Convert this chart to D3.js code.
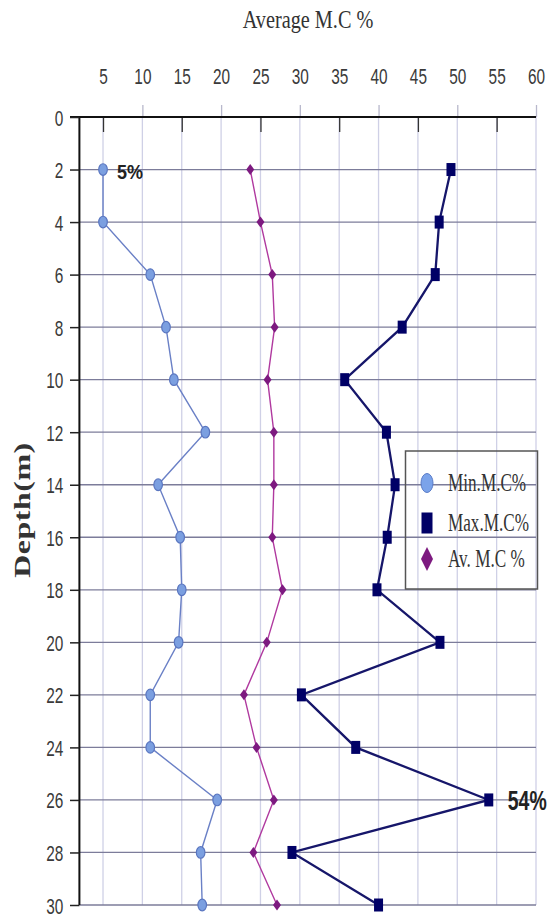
<!DOCTYPE html>
<html>
<head>
<meta charset="utf-8">
<script src="https://cdn.jsdelivr.net/npm/d3@7"></script>
<style>
  html, body { margin: 0; padding: 0; background: #fff; }
  svg { display: block; }
</style>
</head>
<body>
<svg id="chart" width="547" height="917"></svg>
<script>
// Moisture content profile with depth
const depths = [2, 4, 6, 8, 10, 12, 14, 16, 18, 20, 22, 24, 26, 28, 30];
const minMC = [5, 5, 11, 13, 14, 18, 12, 14.8, 15, 14.6, 11, 11, 19.5, 17.4, 17.6];
const maxMC = [49.2, 47.7, 47.2, 43, 35.7, 41, 42.1, 41.1, 39.8, 47.8, 30.2, 37.1, 54, 29, 40];
const avMC = [23.7, 25, 26.5, 26.8, 25.9, 26.7, 26.7, 26.5, 27.8, 25.8, 22.9, 24.5, 26.7, 24.1, 27.1];
const xTicks = [5, 10, 15, 20, 25, 30, 35, 40, 45, 50, 55, 60];
const yTicks = [0, 2, 4, 6, 8, 10, 12, 14, 16, 18, 20, 22, 24, 26, 28, 30];
const seriesNames = ["Min.M.C%", "Max.M.C%", "Av. M.C %"];
const titleText = "Average M.C %";
const yTitle = "Depth(m)";

const svg = d3.select("#chart");
const x = d3.scaleLinear().domain([2, 60]).range([79.4, 536]);
const y = d3.scaleLinear().domain([0, 30]).range([117, 905]);

const sans = "'Liberation Sans', Arial, sans-serif";
const serif = "'Liberation Serif', 'Times New Roman', serif";

// gridlines
const grid = svg.append("g");
grid.selectAll("line.v").data(xTicks).join("line")
  .attr("x1", d => x(d)).attr("x2", d => x(d))
  .attr("y1", y(0)).attr("y2", y(30))
  .attr("stroke", "#cfd0e6").attr("stroke-width", 1.3);
grid.selectAll("line.h").data(yTicks.filter(d => d > 0)).join("line")
  .attr("x1", x(2)).attr("x2", x(60))
  .attr("y1", d => y(d)).attr("y2", d => y(d))
  .attr("stroke", "#7c7c9a").attr("stroke-width", 1.3);

// top axis
const topAxis = svg.append("g").attr("transform", `translate(0,${y(0)})`)
  .call(d3.axisTop(x).tickValues(xTicks).tickSize(0).tickPadding(0));
topAxis.select(".domain").remove();
topAxis.selectAll(".tick text")
  .attr("font-family", sans).attr("font-size", 22).attr("fill", "#3a3a3a")
  .attr("text-anchor", "middle")
  .attr("y", 0)
  .attr("transform", "translate(0,-33) scale(0.7,1)");
// ticks above axis at the tens, below at the fives
topAxis.selectAll(".tick").append("line")
  .attr("y1", d => d % 10 === 0 ? -12 : 0)
  .attr("y2", d => d % 10 === 0 ? 0 : 15)
  .attr("stroke", d => d % 10 === 0 ? "#b8b8cc" : "#333")
  .attr("stroke-width", 1.3);
svg.append("line")
  .attr("x1", 70).attr("x2", x(60)).attr("y1", y(0)).attr("y2", y(0))
  .attr("stroke", "#111").attr("stroke-width", 2);

// left axis
const leftAxis = svg.append("g").attr("transform", `translate(${x(2)},0)`)
  .call(d3.axisLeft(y).tickValues(yTicks).tickSize(9.4).tickPadding(0));
leftAxis.select(".domain").attr("stroke", "#111").attr("stroke-width", 2)
  .attr("d", `M0,${y(0)}V${y(30)}`);
leftAxis.selectAll(".tick line").attr("stroke", "#222").attr("stroke-width", 1.5);
leftAxis.selectAll(".tick text")
  .attr("font-family", sans).attr("font-size", 22).attr("fill", "#3a3a3a")
  .attr("text-anchor", "end").attr("x", 0).attr("dy", null).attr("y", 0)
  .attr("transform", "translate(-16,8) scale(0.7,1)");

// titles
svg.append("text")
  .attr("transform", "translate(308,28) scale(0.78,1)")
  .attr("text-anchor", "middle")
  .attr("font-family", serif).attr("font-size", 26).attr("fill", "#333")
  .text(titleText);
svg.append("text")
  .attr("transform", "translate(30,510) scale(0.7,1) rotate(-90)")
  .attr("text-anchor", "middle")
  .attr("font-family", serif).attr("font-weight", "bold").attr("font-size", 32).attr("fill", "#333")
  .attr("letter-spacing", 0.5)
  .text(yTitle);

// series
const line = d3.line().x(d => x(d[0])).y(d => y(d[1]));
const pts = vals => vals.map((v, i) => [v, depths[i]]);

function diamond(w, h) {
  return `M0,${-h / 2}L${w / 2},0L0,${h / 2}L${-w / 2},0Z`;
}

// average
svg.append("path").datum(pts(avMC)).attr("d", line)
  .attr("fill", "none").attr("stroke", "#b0399f").attr("stroke-width", 1.4);
svg.append("g").selectAll("path").data(pts(avMC)).join("path")
  .attr("transform", d => `translate(${x(d[0])},${y(d[1])})`)
  .attr("d", diamond(8, 11)).attr("fill", "#7d1a80");

// minimum
svg.append("path").datum(pts(minMC)).attr("d", line)
  .attr("fill", "none").attr("stroke", "#6a80c6").attr("stroke-width", 1.4);
svg.append("g").selectAll("ellipse").data(pts(minMC)).join("ellipse")
  .attr("cx", d => x(d[0])).attr("cy", d => y(d[1]))
  .attr("rx", 4.3).attr("ry", 5.8)
  .attr("fill", "#7b9fe0").attr("stroke", "#5a76c0").attr("stroke-width", 1.2);

// maximum
svg.append("path").datum(pts(maxMC)).attr("d", line)
  .attr("fill", "none").attr("stroke", "#16166a").attr("stroke-width", 2.3);
svg.append("g").selectAll("rect").data(pts(maxMC)).join("rect")
  .attr("x", d => x(d[0]) - 4.5).attr("y", d => y(d[1]) - 6.5)
  .attr("width", 9).attr("height", 13)
  .attr("fill", "#000066");

// value labels at the extremes
svg.append("text")
  .attr("transform", `translate(${x(minMC[0]) + 14},${y(depths[0]) + 9}) scale(0.9,1)`)
  .attr("font-family", sans).attr("font-weight", "bold").attr("font-size", 20).attr("fill", "#222")
  .text(d3.min(minMC) + "%");
svg.append("text")
  .attr("transform", `translate(${x(maxMC[12]) + 19},${y(depths[12]) + 10}) scale(0.72,1)`)
  .attr("font-family", sans).attr("font-weight", "bold").attr("font-size", 27).attr("fill", "#222")
  .text(d3.max(maxMC) + "%");

// legend
const lg = svg.append("g");
lg.append("rect").attr("x", 405.5).attr("y", 451).attr("width", 132).attr("height", 138)
  .attr("fill", "none").attr("stroke", "#555").attr("stroke-width", 1.5);
const rowY = [483, 523, 559];
lg.append("ellipse").attr("cx", 427).attr("cy", rowY[0]).attr("rx", 6).attr("ry", 9.5)
  .attr("fill", "#7ba3ea").attr("stroke", "#5a7cc8").attr("stroke-width", 1);
lg.append("rect").attr("x", 421.5).attr("y", rowY[1] - 10.5).attr("width", 11).attr("height", 21)
  .attr("fill", "#000066");
lg.append("path").attr("transform", `translate(427,${rowY[2]})`).attr("d", diamond(12, 24))
  .attr("fill", "#7d1a80");
lg.selectAll("text").data(seriesNames).join("text")
  .attr("transform", (d, i) => `translate(448,${rowY[i] + 8}) scale(0.66,1)`)
  .attr("font-family", serif).attr("font-size", 26).attr("fill", "#333")
  .text(d => d);
</script>
</body>
</html>
